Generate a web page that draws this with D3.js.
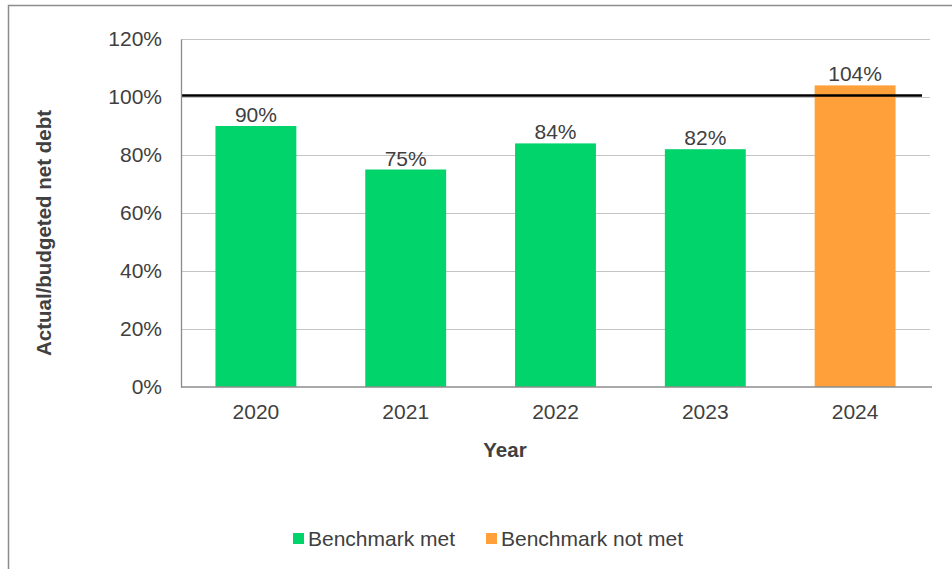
<!DOCTYPE html>
<html>
<head>
<meta charset="utf-8">
<script src="https://cdn.jsdelivr.net/npm/d3@7"></script>
<style>
  html, body { margin: 0; padding: 0; background: #fff; }
  svg { display: block; font-family: "Liberation Sans", Arial, sans-serif; }
</style>
</head>
<body>
<svg id="chart" width="952" height="569"></svg>
<script>
// Net debt outturn against budget, by year
const years = ["2020", "2021", "2022", "2023", "2024"];
const ratios = [90, 75, 84, 82, 104];
const statuses = ["met", "met", "met", "met", "not met"];
const yTicks = [0, 20, 40, 60, 80, 100, 120];
const benchmark = 100;
const legendItems = [
  { key: "met", label: "Benchmark met" },
  { key: "not met", label: "Benchmark not met" }
];

const colors = { "met": "#00D46A", "not met": "#FFA03A" };
const textColor = "#404040";
const fontSize = 21;

const svg = d3.select("#chart");
const plot = { left: 181, right: 930, top: 39, bottom: 387 };

// outer chart frame
svg.append("rect")
  .attr("x", 8.5).attr("y", 5.5)
  .attr("width", 960).attr("height", 600)
  .attr("fill", "none").attr("stroke", "#8c8c8c").attr("stroke-width", 1.5);

const x = d3.scaleBand().domain(years).range([plot.left, plot.right]).paddingInner(0.46).paddingOuter(0.23);
const y = d3.scaleLinear().domain([0, 120]).range([plot.bottom, plot.top]);

// horizontal gridlines
svg.append("g")
  .selectAll("line")
  .data(yTicks.filter(d => d > 0))
  .join("line")
  .attr("x1", plot.left).attr("x2", plot.right)
  .attr("y1", d => Math.round(y(d)) + 0.5).attr("y2", d => Math.round(y(d)) + 0.5)
  .attr("stroke", "#c4c4c4").attr("stroke-width", 1);

// bars
svg.append("g")
  .selectAll("rect")
  .data(years)
  .join("rect")
  .attr("x", d => x(d))
  .attr("width", x.bandwidth())
  .attr("y", (d, i) => y(ratios[i]))
  .attr("height", (d, i) => y(0) - y(ratios[i]))
  .attr("fill", (d, i) => colors[statuses[i]]);

// benchmark line
svg.append("line")
  .attr("x1", plot.left).attr("x2", 922)
  .attr("y1", y(benchmark) - 1.5).attr("y2", y(benchmark) - 1.5)
  .attr("stroke", "#000").attr("stroke-width", 2.6);

// y axis
const yAxis = d3.axisLeft(y).tickValues(yTicks).tickFormat(d => d + "%").tickSize(0).tickPadding(19);
const gy = svg.append("g").attr("transform", `translate(${plot.left},0)`).call(yAxis);
gy.select(".domain").attr("stroke", "#8c8c8c").attr("stroke-width", 1.3);
gy.selectAll("text").attr("fill", textColor).attr("font-size", fontSize)
  .attr("font-family", "'Liberation Sans', Arial, sans-serif");

// x axis
const xAxis = d3.axisBottom(x).tickSize(0).tickPadding(17);
const gx = svg.append("g").attr("transform", `translate(0,${plot.bottom})`).call(xAxis);
gx.select(".domain").attr("stroke", "#8c8c8c").attr("stroke-width", 1.3)
  .attr("d", `M${plot.left},0H${plot.right + 2}`);
gx.selectAll("text").attr("fill", textColor).attr("font-size", fontSize)
  .attr("font-family", "'Liberation Sans', Arial, sans-serif");

// value labels
svg.append("g")
  .selectAll("text")
  .data(years)
  .join("text")
  .attr("x", d => x(d) + x.bandwidth() / 2)
  .attr("y", (d, i) => y(ratios[i]) - 4)
  .attr("text-anchor", "middle")
  .attr("font-size", fontSize)
  .attr("fill", textColor)
  .text((d, i) => ratios[i] + "%");

// axis titles
svg.append("text")
  .attr("x", 505).attr("y", 457)
  .attr("text-anchor", "middle")
  .attr("font-size", 20.5).attr("font-weight", "bold")
  .attr("fill", textColor)
  .text("Year");

svg.append("text")
  .attr("transform", "translate(51,233) rotate(-90)")
  .attr("text-anchor", "middle")
  .attr("font-size", 20.5).attr("font-weight", "bold")
  .attr("fill", textColor)
  .text("Actual/budgeted net debt");

// legend
const legendX = [293, 486];
const legend = svg.append("g");
legendItems.forEach((item, i) => {
  legend.append("rect")
    .attr("x", legendX[i]).attr("y", 533)
    .attr("width", 11).attr("height", 11)
    .attr("fill", colors[item.key]);
  legend.append("text")
    .attr("x", legendX[i] + 15).attr("y", 546)
    .attr("font-size", fontSize).attr("fill", textColor)
    .text(item.label);
});
</script>
</body>
</html>
